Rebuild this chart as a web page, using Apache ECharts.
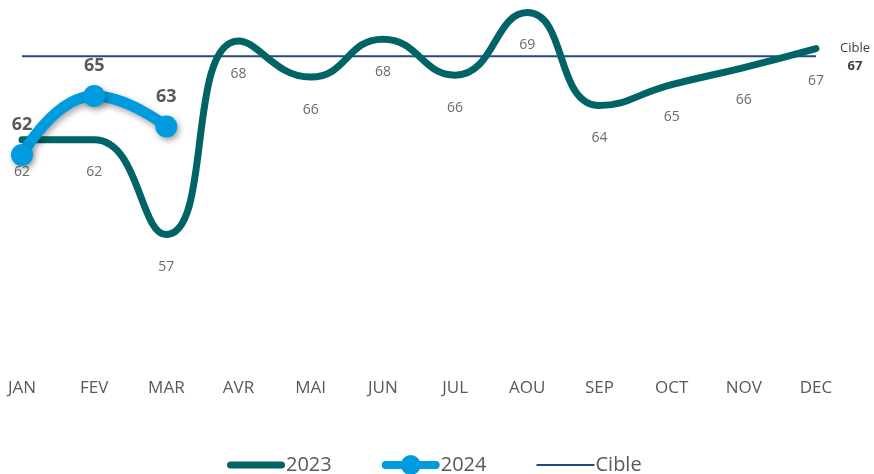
<!DOCTYPE html>
<html>
<head>
<meta charset="utf-8">
<script src="https://cdn.jsdelivr.net/npm/echarts@6/dist/echarts.min.js"></script>
<style>
  html, body { margin: 0; padding: 0; background: #fff; }
  #chart { width: 874px; height: 474px; }
</style>
</head>
<body>
<div id="chart"></div>
<script>
let months = ['JAN', 'FEV', 'MAR', 'AVR', 'MAI', 'JUN', 'JUL', 'AOU', 'SEP', 'OCT', 'NOV', 'DEC']
let values2023 = [62.4, 62.4, 57.4, 67.6, 65.7, 67.7, 65.8, 69.1, 64.2, 65.3, 66.2, 67.2]
let values2024 = [61.6, 64.7, 63.1]
let cible = [66.8, 66.8, 66.8, 66.8, 66.8, 66.8, 66.8, 66.8, 66.8, 66.8, 66.8, 66.8]

let font = 'Open Sans'
let round = (p) => Math.round(p.value)

// legend icons drawn as paths, box 58 x 20
let icon2023 = 'path://M3.5,0 H54.5 A3.5,3.5 0 0 1 54.5,7 H3.5 A3.5,3.5 0 0 1 3.5,0 Z'
let icon2024 = 'path://M4,6 H54 A4,4 0 0 1 54,14 H4 A4,4 0 0 1 4,6 Z M19,10 A10,10 0 1 1 39,10 A10,10 0 1 1 19,10 Z'
let iconCible = 'path://M0,0 H58 V2 H0 Z'

let chart = echarts.init(document.getElementById('chart'))
chart.setOption({
  animation: false,
  textStyle: { fontFamily: font },
  grid: { left: 22, right: 58, top: 5, bottom: 99 },
  xAxis: {
    type: 'category',
    data: months,
    boundaryGap: false,
    axisLine: { show: false },
    axisTick: { show: false },
    axisLabel: { color: '#595959', fontSize: 17, margin: 5, fontFamily: font }
  },
  yAxis: {
    type: 'value',
    min: 50,
    max: 69.5,
    show: false,
    splitLine: { show: false }
  },
  legend: {
    bottom: -6,
    left: 222,
    itemWidth: 58,
    itemHeight: 20,
    itemGap: 50,
    textStyle: { color: '#595959', fontSize: 20, fontFamily: font, padding: [0, 0, 0, -4] },
    data: [
      { name: '2023', icon: icon2023 },
      { name: '2024', icon: icon2024 },
      { name: 'Cible', icon: iconCible }
    ]
  },
  series: [
    {
      name: 'Cible',
      type: 'line',
      data: cible,
      symbol: 'none',
      z: 1,
      lineStyle: { color: '#24487F', width: 2 },
      itemStyle: { color: '#24487F' },
      endLabel: {
        show: true,
        align: 'center',
        verticalAlign: 'middle',
        distance: 39,
        offset: [0, 1],
        formatter: (p) => `{n|Cible}\n{v|${Math.round(p.value)}}`,
        rich: {
          n: { fontSize: 13, color: '#404040', fontFamily: font, lineHeight: 18, align: 'center' },
          v: { fontSize: 13, color: '#404040', fontWeight: 'bold', fontFamily: font, lineHeight: 18, align: 'center' }
        }
      }
    },
    {
      name: '2023',
      type: 'line',
      data: values2023,
      smooth: 0.5,
      symbol: 'circle',
      symbolSize: 1,
      z: 2,
      lineStyle: { color: '#006466', width: 7, cap: 'round' },
      itemStyle: { color: '#006466' },
      label: {
        show: true,
        position: 'bottom',
        distance: 25,
        color: '#6b6b6b',
        fontSize: 14,
        fontFamily: font,
        formatter: round
      }
    },
    {
      name: '2024',
      type: 'line',
      data: values2024,
      smooth: 0.5,
      symbol: 'circle',
      symbolSize: 22,
      z: 3,
      lineStyle: {
        color: '#009BDE', width: 11, cap: 'round',
        shadowColor: 'rgba(0,0,0,0.35)', shadowBlur: 6, shadowOffsetX: 2, shadowOffsetY: 3
      },
      itemStyle: {
        color: '#009BDE',
        shadowColor: 'rgba(0,0,0,0.35)', shadowBlur: 6, shadowOffsetX: 2, shadowOffsetY: 3
      },
      label: {
        show: true,
        position: 'top',
        distance: 10,
        color: '#595959',
        fontSize: 18,
        fontWeight: 'bold',
        fontFamily: font,
        formatter: round
      }
    }
  ]
})
</script>
</body>
</html>
